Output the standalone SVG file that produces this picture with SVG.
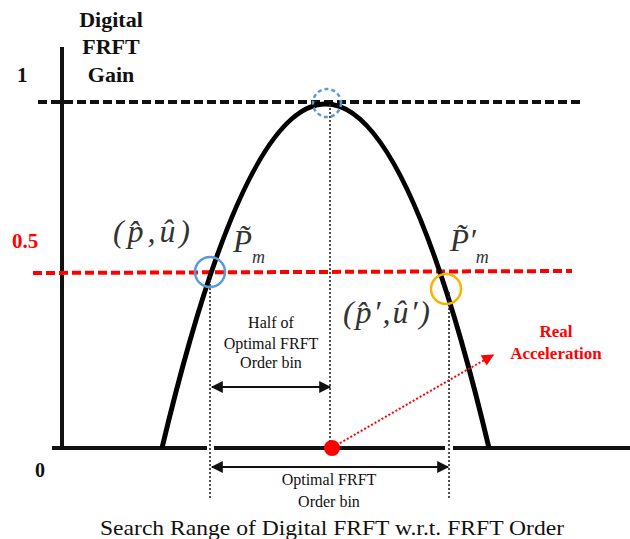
<svg xmlns="http://www.w3.org/2000/svg" width="630" height="539" viewBox="0 0 630 539">
<style>
text{font-family:'Liberation Serif','DejaVu Serif',serif}
.bold{font-weight:bold;fill:#111}
.lbl{fill:#111}
.math{font-style:italic;fill:#333}
.red{fill:#ff0000}
.dot{stroke:#222;stroke-width:1.6;stroke-dasharray:2 2;fill:none}
.arr{stroke:#111;stroke-width:2;fill:none}
</style>
<defs>
<marker id="ah" viewBox="0 0 10 10" refX="9" refY="5" markerWidth="16" markerHeight="12" markerUnits="userSpaceOnUse" orient="auto-start-reverse">
<path d="M0,0 L10,5 L0,10 Z" fill="#111"/>
</marker>
<marker id="rah" viewBox="0 0 10 10" refX="9" refY="5" markerWidth="14" markerHeight="12" markerUnits="userSpaceOnUse" orient="auto">
<path d="M0,0 L10,5 L0,10 Z" fill="#ff0000"/>
</marker>
</defs>

<g id="axes">
<line x1="62" y1="47" x2="62" y2="448" stroke="#111" stroke-width="4"/>
<path d="M52,448 H207 M214,448 H445 M453,448 H630" stroke="#111" stroke-width="4" fill="none"/>
</g>

<g id="reference-lines">
<line x1="38" y1="102" x2="582" y2="102" stroke="#111" stroke-width="4" stroke-dasharray="9 4"/>
<line x1="33" y1="273" x2="572" y2="271" stroke="#ff0000" stroke-width="4" stroke-dasharray="9 4"/>
</g>

<g id="curve">
<path d="M162,448 Q326,-240 489,448" stroke="#000" stroke-width="5" fill="none"/>
</g>

<g id="connectors">
<line class="dot" x1="210" y1="276" x2="210" y2="500"/>
<line class="dot" x1="330" y1="104" x2="330" y2="448"/>
<line class="dot" x1="449" y1="292" x2="449" y2="500"/>
<line class="arr" x1="212" y1="387" x2="330" y2="387" marker-start="url(#ah)" marker-end="url(#ah)"/>
<line class="arr" x1="212" y1="467" x2="448" y2="467" marker-start="url(#ah)" marker-end="url(#ah)"/>
<line x1="333" y1="447" x2="493" y2="355" stroke="#ff0000" stroke-width="2" stroke-dasharray="2 2" marker-end="url(#rah)"/>
</g>

<g id="markers">
<circle cx="327" cy="103" r="14" fill="none" stroke="#5b9bd5" stroke-width="2.5" stroke-dasharray="4 3"/>
<circle cx="210" cy="272" r="15" fill="none" stroke="#5b9bd5" stroke-width="2.5"/>
<circle cx="446" cy="289" r="15" fill="none" stroke="#f5b400" stroke-width="2.5"/>
<circle cx="332" cy="448" r="8" fill="#ff0000"/>
</g>

<g id="y-label">
<text class="bold" font-size="22" text-anchor="middle" x="111" y="27">Digital</text>
<text class="bold" font-size="22" text-anchor="middle" x="111" y="54">FRFT</text>
<text class="bold" font-size="22" text-anchor="middle" x="111" y="82">Gain</text>
</g>
<g id="ticks">
<text class="bold" font-size="21" x="17" y="82">1</text>
<text class="bold red" font-size="21" x="12" y="248">0.5</text>
<text class="bold" font-size="20" x="35" y="477">0</text>
</g>

<g id="point-left">
<text class="math" font-size="32" x="113" y="242" textLength="77" lengthAdjust="spacing">(p̂,û)</text>
</g>
<g id="pm-left">
<text class="math" font-size="31" x="233" y="252">P̃<tspan font-size="18" dx="0" dy="11">m</tspan></text>
</g>
<g id="pm-right">
<text class="math" font-size="31" x="450" y="251">P̃′<tspan font-size="18" dx="0" dy="12">m</tspan></text>
</g>
<g id="point-right">
<text class="math" font-size="32" x="343" y="323" textLength="87" lengthAdjust="spacing">(p̂′,û′)</text>
</g>

<g id="half-bin">
<text class="lbl" font-size="16" text-anchor="middle" x="271" y="328">Half of</text>
<text class="lbl" font-size="16" text-anchor="middle" x="271" y="349">Optimal FRFT</text>
<text class="lbl" font-size="16" text-anchor="middle" x="271" y="368">Order bin</text>
</g>
<g id="optimal-bin">
<text class="lbl" font-size="16" text-anchor="middle" x="329" y="485">Optimal FRFT</text>
<text class="lbl" font-size="16" text-anchor="middle" x="329" y="507">Order bin</text>
</g>
<g id="real-acc">
<text class="bold red" font-size="17" text-anchor="middle" x="556" y="337">Real</text>
<text class="bold red" font-size="17" text-anchor="middle" x="556" y="359">Acceleration</text>
</g>
<g id="caption">
<text class="lbl" font-size="21" x="100" y="535" textLength="464" lengthAdjust="spacingAndGlyphs">Search Range of Digital FRFT w.r.t. FRFT Order</text>
</g>
</svg>
